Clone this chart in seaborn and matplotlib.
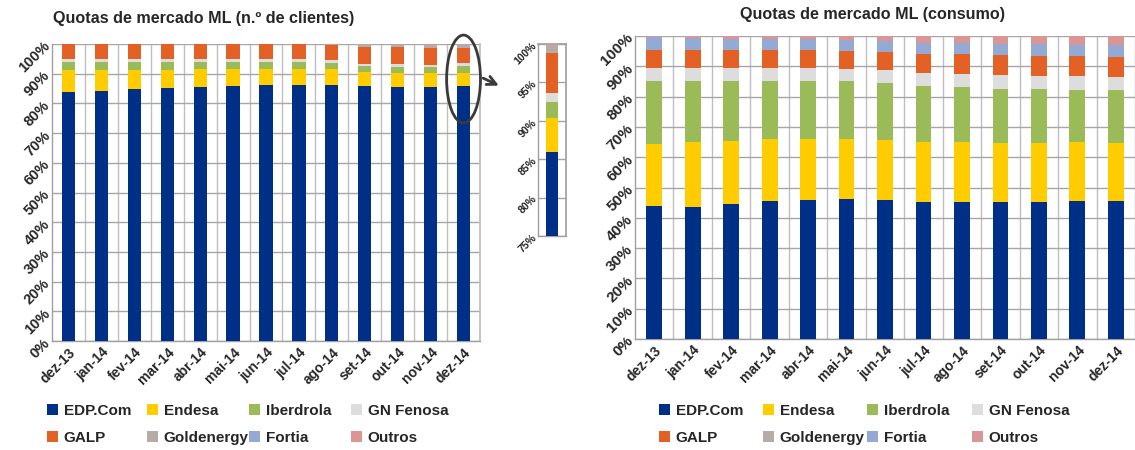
import numpy as np
import matplotlib
matplotlib.use("Agg")
import matplotlib.pyplot as plt
import seaborn as sns
from matplotlib.patches import Patch, Ellipse

months = ["dez-13", "jan-14", "fev-14", "mar-14", "abr-14", "mai-14", "jun-14",
          "jul-14", "ago-14", "set-14", "out-14", "nov-14", "dez-14"]
companies = ["EDP.Com", "Endesa", "Iberdrola", "GN Fenosa", "GALP",
             "Goldenergy", "Fortia", "Outros"]
colors = ["#002F87", "#FFCC00", "#9BBB59", "#DDDDDD", "#E46126",
          "#B5ABA9", "#95A9D5", "#D99694"]

# Quotas de mercado ML (n.º de clientes), %
cli_edp = [84.0, 84.3, 84.8, 85.2, 85.6, 86.0, 86.25, 86.25, 86.25, 86.0, 85.5, 85.5, 85.9]
cli_endesa = [7.4, 6.8, 6.45, 6.2, 5.9, 5.5, 5.25, 5.25, 5.25, 4.6, 4.7, 4.6, 4.5]
cli_iber = [2.6, 2.9, 2.75, 2.6, 2.5, 2.5, 2.5, 2.4, 2.25, 2.1, 2.1, 2.1, 2.1]
cli_gn = [0.8, 0.8, 0.8, 0.8, 0.8, 0.8, 0.8, 0.9, 0.75, 0.7, 0.9, 0.8, 1.1]
cli_galp = [5.2, 5.2, 5.2, 5.2, 5.2, 5.2, 5.2, 5.2, 5.3, 5.7, 5.7, 5.6, 5.2]
cli_gold = [0, 0, 0, 0, 0, 0, 0, 0, 0, 0.9, 1.0, 1.2, 1.1]
cli_fortia = [0, 0, 0, 0, 0, 0, 0, 0, 0, 0, 0, 0, 0]
cli_outros = [0, 0, 0, 0, 0, 0, 0, 0, 0.2, 0, 0.1, 0.2, 0.1]

# Quotas de mercado ML (consumo), %
con_edp = [44.0, 43.65, 44.5, 45.6, 46.0, 46.2, 46.0, 45.2, 45.3, 45.3, 45.3, 45.6, 45.6]
con_endesa = [20.2, 21.25, 20.8, 20.3, 20.1, 19.8, 19.8, 19.7, 19.6, 19.5, 19.5, 19.3, 19.0]
con_iber = [21.1, 20.1, 19.9, 19.4, 19.2, 19.0, 18.7, 18.5, 18.3, 17.8, 17.7, 17.4, 17.5]
con_gn = [4.2, 4.4, 4.2, 4.2, 4.2, 4.2, 4.3, 4.3, 4.4, 4.4, 4.3, 4.4, 4.5]
con_galp = [6.0, 5.9, 6.1, 6.0, 6.0, 5.8, 5.8, 6.5, 6.4, 6.6, 6.6, 6.7, 6.6]
con_gold = [0, 0, 0, 0, 0, 0, 0, 0, 0, 0, 0, 0, 0]
con_fortia = [4.2, 4.0, 3.6, 3.6, 3.5, 3.8, 3.7, 3.6, 3.6, 3.8, 3.9, 3.6, 3.7]
con_outros = [0.3, 0.7, 0.9, 0.9, 1.0, 1.2, 1.6, 2.2, 2.4, 2.6, 2.7, 3.0, 3.1]

cli = [cli_edp, cli_endesa, cli_iber, cli_gn, cli_galp, cli_gold, cli_fortia, cli_outros]
con = [con_edp, con_endesa, con_iber, con_gn, con_galp, con_gold, con_fortia, con_outros]

sns.set_theme(style="white")
plt.rcParams["font.family"] = ["Liberation Sans", "DejaVu Sans"]
plt.rcParams["font.weight"] = "bold"

W, H = 1135, 450
fig = plt.figure(figsize=(W / 100, H / 100), dpi=100)
fig.patch.set_facecolor("white")

GRID_H = "#A6A6A6"
GRID_V = "#BFBFBF"


def stacked(ax, series, cats, width):
    cum = np.cumsum(np.array(series, dtype=float), axis=0)
    for k in reversed(range(len(series))):
        sns.barplot(x=cats, y=cum[k][-len(cats):], order=cats, color=colors[k],
                    saturation=1, width=width, linewidth=0, ax=ax, zorder=3)
    ax.set_xlabel("")
    ax.set_ylabel("")


def style_axes(ax, n, ylo, yhi, step, xright, tick_fs, ytick_fs):
    ax.set_ylim(ylo, yhi)
    ax.set_xlim(-0.5, xright)
    yt = np.arange(ylo, yhi + 0.1, step)
    ax.set_yticks(yt)
    ax.set_yticklabels([f"{int(v)}%" for v in yt], rotation=45, ha="right",
                       va="center", rotation_mode="anchor", fontsize=ytick_fs,
                       fontweight="bold")
    ax.yaxis.grid(True, color=GRID_H, lw=1.0, zorder=0)
    ax.set_xticks(np.arange(n) + 0.5, minor=True)
    ax.xaxis.grid(True, which="minor", color=GRID_V, lw=1.0, zorder=0)
    ax.xaxis.grid(False, which="major")
    ax.set_axisbelow(True)
    ax.tick_params(axis="both", which="both", length=0, pad=3)
    for s in ["top", "right"]:
        ax.spines[s].set_visible(False)
    for s in ["left", "bottom"]:
        ax.spines[s].set_color("#A0A0A0")
        ax.spines[s].set_linewidth(1.0)
    if tick_fs:
        ax.set_xticks(np.arange(n))
        ax.set_xticklabels(months[:n], rotation=45, ha="right",
                           rotation_mode="anchor", fontsize=tick_fs,
                           fontweight="bold")


# Left chart
axL = fig.add_axes([52 / W, 109 / H, 428 / W, 297 / H])
stacked(axL, cli, months, 0.4)
style_axes(axL, 13, 0, 100, 10, 12.5, 10, 10.5)
axL.spines["right"].set_visible(True)
axL.spines["right"].set_color(GRID_V)

# Ellipse and arrow around dez-14
axL.add_patch(Ellipse((12, 88.2), width=1.03, height=29.6, fill=False,
                      ec="#3A3A3A", lw=2, clip_on=False, zorder=5))
axL.annotate("", xy=(13.15, 85.6), xytext=(12.52, 88.9),
             arrowprops=dict(arrowstyle="->", color="#3A3A3A", lw=2,
                             mutation_scale=16),
             annotation_clip=False)

# Inset (zoom on dez-14)
axI = fig.add_axes([538 / W, 214 / H, 28 / W, 192 / H])
stacked(axI, cli, [months[-1]], 0.42)
style_axes(axI, 1, 75, 100, 5, 0.5, None, 7.5)
axI.set_xticks([])
axI.set_xticks([], minor=True)
for s in ["top", "right"]:
    axI.spines[s].set_visible(True)
    axI.spines[s].set_color("#A0A0A0")
axI.tick_params(axis="y", pad=2)

# Right chart
axR = fig.add_axes([635 / W, 111 / H, 500 / W, 303 / H])
stacked(axR, con, months, 0.41)
style_axes(axR, 13, 0, 100, 10, -0.5 + 500 / 38.9, 10, 11)

# Titles
fig.text(204 / W, 1 - 18 / H, "Quotas de mercado ML (n.º de clientes)",
         ha="center", va="center", fontsize=11.6, fontweight="bold")
fig.text(872 / W, 1 - 15 / H, "Quotas de mercado ML (consumo)",
         ha="center", va="center", fontsize=11.6, fontweight="bold")

# Legends (4 columns x 2 rows, each column placed individually)
handles = [Patch(facecolor=c, edgecolor="none") for c in colors]


def legend_block(xs):
    for j, x in enumerate(xs):
        idx = [j, j + 4]
        fig.legend([handles[i] for i in idx], [companies[i] for i in idx],
                   loc="upper left", bbox_to_anchor=(x / W, 1 - 404 / H),
                   frameon=False, borderaxespad=0, borderpad=0,
                   handlelength=0.75, handleheight=0.75, handletextpad=0.35,
                   labelspacing=0.85, prop=dict(size=11, weight="bold"))


legend_block([47, 147, 249, 351])
legend_block([659, 763, 867, 972])

fig.savefig("out.png", dpi=100, facecolor="white")
